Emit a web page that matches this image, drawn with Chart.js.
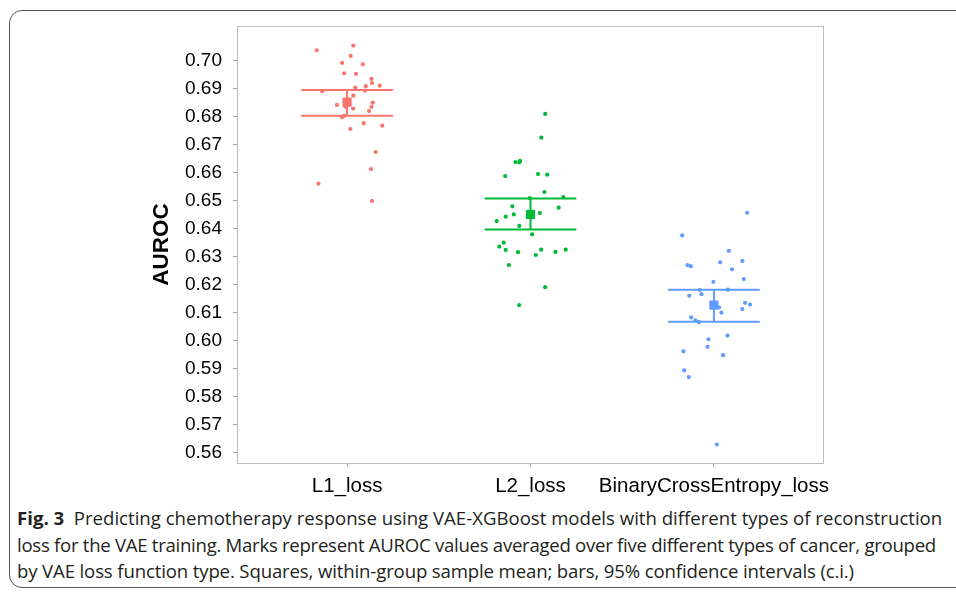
<!DOCTYPE html>
<html>
<head>
<meta charset="utf-8">
<script src="https://cdn.jsdelivr.net/npm/chart.js@4"></script>
<style>
  body { margin: 0; background: #fff; width: 956px; height: 592px; overflow: hidden; position: relative; }
  #frame { position: absolute; left: 9px; top: 10px; width: 980px; height: 578px; border: 1.5px solid #555; border-radius: 13px; box-sizing: border-box; }
  #wrap { position: absolute; left: 0; top: 0; width: 956px; height: 500px; }
  #caption { position: absolute; left: 17px; top: 505px; font-family: "Open Sans", sans-serif; font-size: 18.6px; color: #231f20; line-height: 26.5px; }
  #caption div { white-space: nowrap; }
  #l1 { letter-spacing: 0px; }
  #l2 { letter-spacing: -0.28px; }
  #l3 { letter-spacing: -0.14px; }
</style>
</head>
<body>
<div id="frame"></div>
<div id="wrap"><canvas id="grafica" width="956" height="500"></canvas></div>
<div id="caption">
  <div id="l1"><b>Fig. 3</b>&nbsp; Predicting chemotherapy response using VAE-XGBoost models with different types of reconstruction</div>
  <div id="l2">loss for the VAE training. Marks represent AUROC values averaged over five different types of cancer, grouped</div>
  <div id="l3">by VAE loss function type. Squares, within-group sample mean; bars, 95% confidence intervals (c.i.)</div>
</div>
<script>
const categorias = ["L1_loss", "L2_loss", "BinaryCrossEntropy_loss"];
const colores = ["#F8766D", "#00BA38", "#619CFF"];
const yTicks = [0.56, 0.57, 0.58, 0.59, 0.60, 0.61, 0.62, 0.63, 0.64, 0.65, 0.66, 0.67, 0.68, 0.69, 0.70];

// valores AUROC, con el desplazamiento horizontal (jitter) de cada punto
const l1Valores = [0.7038, 0.7055, 0.7018, 0.6993, 0.6988, 0.6956, 0.6954, 0.6936, 0.6921, 0.6912,
  0.6910, 0.6905, 0.6894, 0.6892, 0.6876, 0.6851, 0.6843, 0.6836, 0.6830, 0.6821,
  0.6799, 0.6804, 0.6778, 0.6769, 0.6757, 0.6675, 0.6614, 0.6562, 0.6500, 0.6837];
const l1Jitter = [-0.165, 0.034, 0.020, -0.027, 0.086, -0.016, 0.049, 0.133, 0.136, 0.178,
  0.102, 0.045, 0.098, -0.136, 0.034, 0.140, -0.055, 0.133, 0.033, 0.120,
  -0.027, -0.015, 0.091, 0.192, 0.018, 0.156, 0.131, -0.156, 0.136, -0.009];

const l2Valores = [0.6811, 0.6726, 0.6639, 0.6638, 0.6643, 0.6589, 0.6596, 0.6594, 0.6532, 0.6514,
  0.6510, 0.6481, 0.6476, 0.6444, 0.6452, 0.6457, 0.6428, 0.6411, 0.6381, 0.6351,
  0.6337, 0.6325, 0.6326, 0.6326, 0.6317, 0.6318, 0.6307, 0.6271, 0.6192, 0.6128];
const l2Jitter = [0.080, 0.059, -0.082, -0.061, -0.057, -0.138, 0.041, 0.091, 0.076, 0.179,
  -0.004, -0.099, 0.154, -0.135, -0.091, 0.051, -0.184, -0.061, 0.009, -0.146,
  -0.170, -0.135, 0.058, 0.192, -0.068, 0.136, 0.029, -0.118, 0.080, -0.062];

const bceValores = [0.6458, 0.6377, 0.6322, 0.6281, 0.6286, 0.6271, 0.6267, 0.6256, 0.6211, 0.6221,
  0.6182, 0.6183, 0.6167, 0.6161, 0.6136, 0.6130, 0.6120, 0.6114, 0.6101, 0.6084,
  0.6074, 0.6067, 0.6019, 0.6006, 0.5979, 0.5963, 0.5949, 0.5895, 0.5871, 0.5630];
const bceJitter = [0.181, -0.173, 0.081, 0.034, 0.155, -0.144, -0.126, 0.099, -0.003, 0.163,
  -0.077, 0.076, -0.068, -0.135, 0.170, 0.197, 0.028, 0.154, 0.041, -0.124,
  -0.101, -0.082, 0.074, -0.030, -0.035, -0.166, 0.050, -0.162, -0.137, 0.016];

// media y limites del intervalo de confianza 95%
const medias = [0.6853, 0.6452, 0.6128];
const ciBajo = [0.6804, 0.6398, 0.6069];
const ciAlto = [0.6896, 0.6509, 0.6183];

const valores = [l1Valores, l2Valores, bceValores];
const jitters = [l1Jitter, l2Jitter, bceJitter];
const anchoBarra = 0.25;

const datasets = [];
categorias.forEach((cat, i) => {
  const xc = i + 1;
  datasets.push({
    label: cat,
    data: valores[i].map((v, k) => ({ x: xc + jitters[i][k], y: v })),
    backgroundColor: colores[i],
    borderWidth: 0,
    pointRadius: 2.1,
    order: 3,
  });
  datasets.push({
    label: cat + " ci",
    data: [
      { x: xc - anchoBarra, y: ciAlto[i] }, { x: xc + anchoBarra, y: ciAlto[i] }, { x: xc, y: null },
      { x: xc, y: ciAlto[i] }, { x: xc, y: ciBajo[i] }, { x: xc, y: null },
      { x: xc - anchoBarra, y: ciBajo[i] }, { x: xc + anchoBarra, y: ciBajo[i] },
    ],
    showLine: true,
    spanGaps: false,
    borderColor: colores[i],
    borderWidth: 2,
    pointRadius: 0,
    order: 2,
  });
  datasets.push({
    label: cat + " media",
    data: [{ x: xc, y: medias[i] }],
    pointStyle: "rect",
    pointRadius: 6.5,
    backgroundColor: colores[i],
    borderWidth: 0,
    order: 1,
  });
});

const marcoPlot = {
  id: "marcoPlot",
  afterDraw(chart) {
    const { ctx, chartArea } = chart;
    ctx.save();
    ctx.strokeStyle = "#bdbdbd";
    ctx.lineWidth = 1;
    ctx.strokeRect(chartArea.left + 0.5, chartArea.top + 0.5, chartArea.right - chartArea.left - 1, chartArea.bottom - chartArea.top);
    ctx.restore();
  },
};

const ctx = document.getElementById("grafica").getContext("2d");
window.myChart = new Chart(ctx, {
  type: "scatter",
  data: { datasets: datasets },
  options: {
    responsive: false,
    animation: false,
    layout: { padding: { left: 140, top: 26, right: 132, bottom: 0 } },
    plugins: { legend: { display: false }, tooltip: { enabled: false } },
    scales: {
      x: {
        type: "linear",
        min: 0.4,
        max: 3.6,
        afterBuildTicks: (scale) => { scale.ticks = categorias.map((c, i) => ({ value: i + 1 })); },
        afterFit: (scale) => { scale.height = 37; },
        ticks: {
          callback: (v) => categorias[Math.round(v) - 1],
          color: "#000",
          font: { family: "Liberation Sans, Arial", size: 20.5 },
          padding: 7,
          maxRotation: 0,
        },
        grid: { drawOnChartArea: false, drawTicks: true, tickLength: 4, color: "#9e9e9e" },
        border: { display: false },
      },
      y: {
        min: 0.5564,
        max: 0.7125,
        afterBuildTicks: (scale) => { scale.ticks = yTicks.map((v) => ({ value: v })); },
        afterFit: (scale) => { scale.width = 97; },
        ticks: {
          callback: (v) => v.toFixed(2),
          color: "#000",
          font: { family: "Liberation Sans, Arial", size: 19 },
          padding: 11,
        },
        grid: { drawOnChartArea: false, drawTicks: true, tickLength: 4, color: "#9e9e9e" },
        border: { display: false },
        title: {
          display: true,
          text: "AUROC",
          color: "#000",
          font: { family: "Liberation Sans, Arial", size: 22.5, weight: "bold" },
          padding: { top: 8, bottom: 0 },
        },
      },
    },
  },
  plugins: [marcoPlot],
});
</script>
</body>
</html>
